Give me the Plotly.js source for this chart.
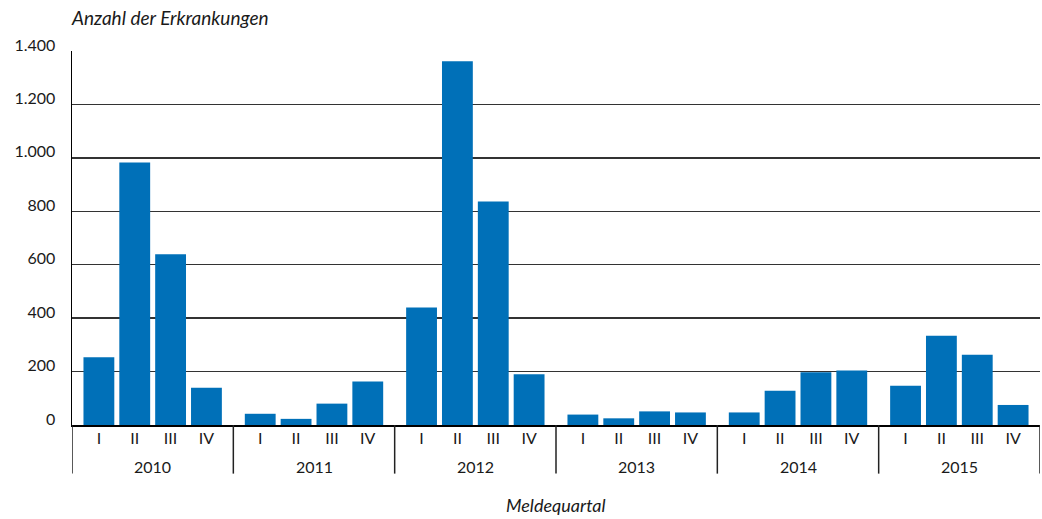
<!DOCTYPE html>
<html>
<head>
<meta charset="utf-8">
<script src="https://cdn.plot.ly/plotly-3.0.1.min.js"></script>
<style>html,body{margin:0;padding:0;background:#fff;}#chart{width:1042px;height:519px;}</style>
</head>
<body>
<div id="chart"></div>
<script>
// Data
const years = ["2010", "2011", "2012", "2013", "2014", "2015"];
const quarters = ["I", "II", "III", "IV"];
const cases2010 = [254, 983, 639, 139];
const cases2011 = [42, 23, 80, 163];
const cases2012 = [440, 1362, 837, 190];
const cases2013 = [39, 25, 51, 47];
const cases2014 = [47, 128, 197, 204];
const cases2015 = [147, 334, 263, 75];
const yTickVals = [0, 200, 400, 600, 800, 1000, 1200, 1400];
const yTickText = ["0", "200", "400", "600", "800", "1.000", "1.200", "1.400"];

const allCases = [cases2010, cases2011, cases2012, cases2013, cases2014, cases2015];
const groupWidth = 4.5;
const xs = [], ys = [], tickVals = [], tickText = [];
allCases.forEach((arr, g) => {
  arr.forEach((v, q) => {
    const x = g * groupWidth + 0.75 + q;
    xs.push(x); ys.push(v); tickVals.push(x); tickText.push(quarters[q]);
  });
});

const FONT = "Lato, 'Open Sans', sans-serif";
const annotations = years.map((y, g) => ({
  text: y, xref: 'x', yref: 'paper', x: g * groupWidth + groupWidth / 2, y: 0,
  yanchor: 'middle', xanchor: 'center', yshift: -41, showarrow: false,
  font: {family: FONT, size: 16, color: '#1a1a1a'}
}));
annotations.push({
  text: '<i>Anzahl der Erkrankungen</i>', xref: 'paper', yref: 'paper', x: 0, y: 1,
  xanchor: 'left', yanchor: 'bottom', yshift: 20, xshift: -3, showarrow: false,
  font: {family: FONT, size: 19, color: '#1a1a1a'}
});
annotations.push({
  text: '<i>Meldequartal</i>', xref: 'paper', yref: 'paper', x: 0.5, y: 0,
  xanchor: 'center', yanchor: 'bottom', yshift: -93, showarrow: false,
  font: {family: FONT, size: 18, color: '#1a1a1a'}
});

const shapes = [];
for (let g = 0; g <= years.length; g++) {
  shapes.push({type: 'line', xref: 'x', yref: 'paper', x0: g * groupWidth, x1: g * groupWidth,
    y0: 0, y1: -0.13, line: {color: '#222', width: 1.5}});
}

Plotly.newPlot('chart', [{
  type: 'bar', x: xs, y: ys, width: 0.86,
  marker: {color: '#0070b8', line: {width: 0}},
  hoverinfo: 'y'
}], {
  width: 1042, height: 519,
  margin: {l: 72, r: 2, t: 51, b: 94},
  paper_bgcolor: '#fff', plot_bgcolor: '#fff',
  showlegend: false,
  font: {family: FONT, size: 16, color: '#1a1a1a'},
  xaxis: {
    range: [0, years.length * groupWidth], tickvals: tickVals, ticktext: tickText,
    showgrid: false, zeroline: false, showline: true, linecolor: '#000', linewidth: 2,
    ticks: '', ticklabelstandoff: -2, fixedrange: true
  },
  yaxis: {
    range: [0, 1400], tickvals: yTickVals, ticktext: yTickText,
    showgrid: true, gridcolor: '#333', gridwidth: 1.5, zeroline: false,
    showline: true, linecolor: '#000', linewidth: 1.5, ticks: '',
    ticklabelstandoff: 12, ticklabelshift: -6, fixedrange: true
  },
  annotations: annotations,
  shapes: shapes
}, {staticPlot: true});
</script>
</body>
</html>
